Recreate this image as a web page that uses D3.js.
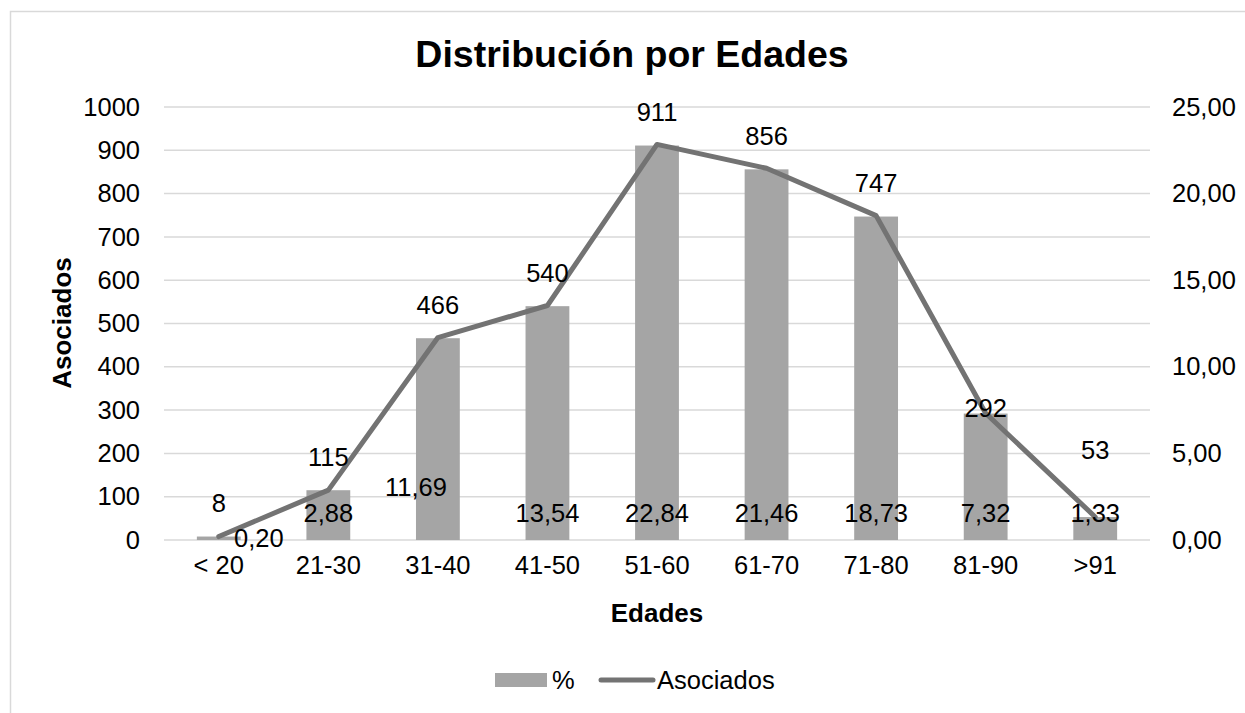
<!DOCTYPE html>
<html>
<head>
<meta charset="utf-8">
<script src="https://cdn.jsdelivr.net/npm/d3@7"></script>
<style>
  body { margin: 0; background: #fff; }
  text { font-family: "Liberation Sans", Arial, sans-serif; fill: #000; }
</style>
</head>
<body>
<svg width="1245" height="713"></svg>
<script>
// data
var edades = ['< 20', '21-30', '31-40', '41-50', '51-60', '61-70', '71-80', '81-90', '>91'];
var asociados = [8, 115, 466, 540, 911, 856, 747, 292, 53];
var porcentaje = [0.20, 2.88, 11.69, 13.54, 22.84, 21.46, 18.73, 7.32, 1.33];
var leftTicks = [0, 100, 200, 300, 400, 500, 600, 700, 800, 900, 1000];
var rightTicks = [0, 5, 10, 15, 20, 25];

// labels that were dragged by hand in the original
var nudgeCount = {7: [0, 28], 8: [0, -34]};
var nudgePct = {0: [40, 25], 2: [-22, -26]};

var es = d3.formatLocale({decimal: ',', thousands: '.', grouping: [3], currency: ['', '€']});
var fmt2 = es.format('.2f');

var svg = d3.select('svg');
var fs = '25.5px';

// chart border
svg.append('rect')
  .attr('x', 10.5).attr('y', 11.5)
  .attr('width', 1260).attr('height', 720)
  .attr('fill', 'none').attr('stroke', '#d9d9d9').attr('stroke-width', 1.5);

var pLeft = 164, pRight = 1150, pTop = 107, pBottom = 540;

var xScale = d3.scaleBand().domain(edades).range([pLeft, pRight]).paddingInner(0.6).paddingOuter(0.3);
var yLeft = d3.scaleLinear().domain([0, 1000]).range([pBottom, pTop]);
var yRight = d3.scaleLinear().domain([0, 25]).range([pBottom, pTop]);
var cx = function(d) { return xScale(d) + xScale.bandwidth() / 2; };

// gridlines
svg.append('g').selectAll('line')
  .data(leftTicks)
  .enter().append('line')
  .attr('x1', pLeft).attr('x2', pRight)
  .attr('y1', d => yLeft(d)).attr('y2', d => yLeft(d))
  .attr('stroke', '#d9d9d9').attr('stroke-width', 1.5);

// axes (no domain, no ticks)
var yAxisL = d3.axisLeft(yLeft).tickValues(leftTicks).tickSize(0).tickPadding(24).tickFormat(d3.format('d'));
var gL = svg.append('g').attr('transform', 'translate(' + pLeft + ',0)').call(yAxisL);
var yAxisR = d3.axisRight(yRight).tickValues(rightTicks).tickSize(0).tickPadding(22).tickFormat(fmt2);
var gR = svg.append('g').attr('transform', 'translate(' + pRight + ',0)').call(yAxisR);
var xAxis = d3.axisBottom(xScale).tickSize(0).tickPadding(16);
var gX = svg.append('g').attr('transform', 'translate(0,' + pBottom + ')').call(xAxis);
[gL, gR, gX].forEach(function(g) {
  g.select('.domain').remove();
  g.selectAll('text').style('font-size', fs).style('font-family', '"Liberation Sans", Arial, sans-serif').attr('fill', '#000');
});

// bars
svg.append('g').selectAll('rect')
  .data(asociados)
  .enter().append('rect')
  .attr('x', (d, i) => xScale(edades[i]))
  .attr('y', d => yLeft(d))
  .attr('width', xScale.bandwidth())
  .attr('height', d => pBottom - yLeft(d))
  .attr('fill', '#a5a5a5');

// line
var line = d3.line()
  .x((d, i) => cx(edades[i]))
  .y(d => yRight(d));
svg.append('path')
  .datum(porcentaje)
  .attr('d', line)
  .attr('fill', 'none')
  .attr('stroke', '#737373')
  .attr('stroke-width', 5)
  .attr('stroke-linejoin', 'round')
  .attr('stroke-linecap', 'round');

// count labels
svg.append('g').selectAll('text')
  .data(asociados)
  .enter().append('text')
  .attr('x', (d, i) => cx(edades[i]) + (nudgeCount[i] ? nudgeCount[i][0] : 0))
  .attr('y', (d, i) => yLeft(d) - 33 + (nudgeCount[i] ? nudgeCount[i][1] : 0))
  .attr('dy', '0.35em')
  .attr('text-anchor', 'middle')
  .style('font-size', fs)
  .text(d => d);

// percent labels
svg.append('g').selectAll('text')
  .data(porcentaje)
  .enter().append('text')
  .attr('x', (d, i) => cx(edades[i]) + (nudgePct[i] ? nudgePct[i][0] : 0))
  .attr('y', (d, i) => pBottom - 27 + (nudgePct[i] ? nudgePct[i][1] : 0))
  .attr('dy', '0.35em')
  .attr('text-anchor', 'middle')
  .style('font-size', fs)
  .text(d => fmt2(d));

// title
svg.append('text')
  .attr('x', 632).attr('y', 67)
  .attr('text-anchor', 'middle')
  .style('font-size', '37.5px').style('font-weight', 'bold')
  .text('Distribución por Edades');

// axis titles
svg.append('text')
  .attr('transform', 'translate(71,323) rotate(-90)')
  .attr('text-anchor', 'middle')
  .style('font-size', '26px').style('font-weight', 'bold')
  .text('Asociados');
svg.append('text')
  .attr('x', (pLeft + pRight) / 2).attr('y', 622)
  .attr('text-anchor', 'middle')
  .style('font-size', '26px').style('font-weight', 'bold')
  .text('Edades');

// legend
var lg = svg.append('g');
lg.append('rect').attr('x', 495).attr('y', 673).attr('width', 52).attr('height', 14).attr('fill', '#a5a5a5');
lg.append('text').attr('x', 552).attr('y', 680).attr('dy', '0.35em').style('font-size', fs).text('%');
lg.append('line').attr('x1', 601).attr('x2', 653).attr('y1', 680).attr('y2', 680)
  .attr('stroke', '#737373').attr('stroke-width', 5).attr('stroke-linecap', 'round');
lg.append('text').attr('x', 657).attr('y', 680).attr('dy', '0.35em').style('font-size', fs).text('Asociados');
</script>
</body>
</html>
